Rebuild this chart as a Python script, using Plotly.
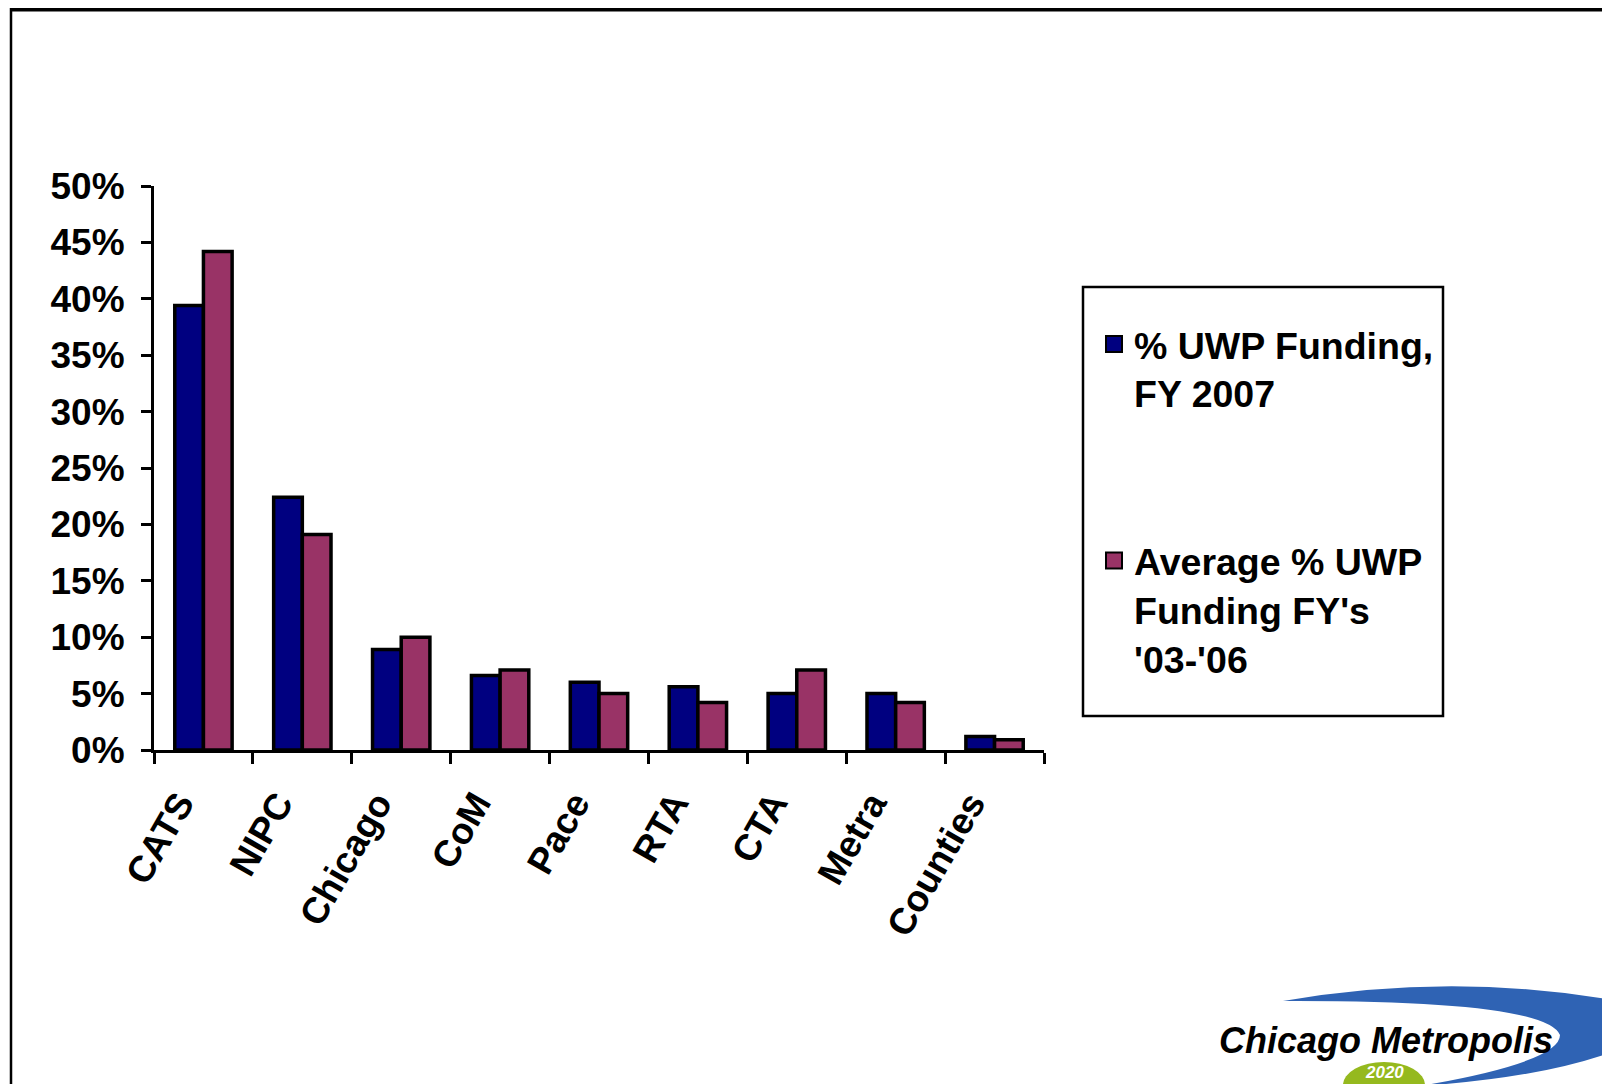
import plotly.graph_objects as go

categories = ["CATS", "NIPC", "Chicago", "CoM", "Pace", "RTA", "CTA", "Metra", "Counties"]
fy2007 = [0.394, 0.224, 0.089, 0.066, 0.060, 0.056, 0.050, 0.050, 0.012]
avg_03_06 = [0.442, 0.191, 0.100, 0.071, 0.050, 0.042, 0.071, 0.042, 0.009]
series_names = ["% UWP Funding,<br>FY 2007", "Average % UWP<br>Funding FY's<br>'03-'06"]
y_ticks = [0, 0.05, 0.10, 0.15, 0.20, 0.25, 0.30, 0.35, 0.40, 0.45, 0.50]
y_tick_text = ["0%", "5%", "10%", "15%", "20%", "25%", "30%", "35%", "40%", "45%", "50%"]

OFF = 8  # page offset of the figure (body margin)
W, H = 1610 - OFF, 1084 - OFF
ML, MT = 154 - OFF, 186 - OFF
MR = W - (1044 - OFF)
MB = H - (750 - OFF)
PW, PH = W - ML - MR, H - MT - MB

def px(x):
    return (x - OFF - ML) / PW

def py(y):
    return (H - MB - (y - OFF)) / PH

NAVY = "#000080"
PLUM = "#993366"
FONT = "Liberation Sans, Arial, sans-serif"

fig = go.Figure()
fig.add_trace(go.Bar(x=categories, y=fy2007, name=series_names[0], marker=dict(color=NAVY, line=dict(color="black", width=3.5)), showlegend=False))
fig.add_trace(go.Bar(x=categories, y=avg_03_06, name=series_names[1], marker=dict(color=PLUM, line=dict(color="black", width=3.5)), showlegend=False))
for nm, col, grp in [(series_names[0], NAVY, "a"), (series_names[1], PLUM, "b")]:
    fig.add_trace(go.Scatter(x=[None], y=[None], mode="markers", name=nm, legendgroup=grp,
                             marker=dict(symbol="square", size=16, color=col, line=dict(color="black", width=2))))

fig.update_layout(
    width=W, height=H,
    margin=dict(l=ML, r=MR, t=MT, b=MB, pad=0),
    paper_bgcolor="white", plot_bgcolor="white",
    barmode="group", bargap=0.42, bargroupgap=0,
    font=dict(family=FONT, size=37, color="black", weight="bold"),
    showlegend=True,
    legend=dict(x=px(1094), y=py(313), xanchor="left", yanchor="top", valign="top",
                traceorder="grouped", tracegroupgap=116, borderwidth=0, bgcolor="rgba(0,0,0,0)",
                font=dict(family=FONT, size=37.5, color="black", weight="bold")),
)
fig.update_xaxes(type="category", range=[-0.5, 8.5], showline=True, linecolor="black", linewidth=3,
                 ticks="outside", tickson="boundaries", ticklen=11, tickwidth=3, tickcolor="black",
                 tickangle=-60, showgrid=False, zeroline=False,
                 ticklabelstandoff=14, ticklabelshift=-24,
                 tickfont=dict(family=FONT, size=37, color="black", weight="bold"))
fig.update_yaxes(range=[0, 0.5], tickvals=y_ticks, ticktext=y_tick_text, showline=True, linecolor="black",
                 linewidth=3, ticks="outside", ticklen=10, tickwidth=3, tickcolor="black",
                 showgrid=False, zeroline=False, ticklabelstandoff=9,
                 tickfont=dict(family=FONT, size=37, color="black", weight="bold"))

shapes = []
# slide frame
shapes.append(dict(type="line", xref="paper", yref="paper", x0=px(10), x1=px(1612), y0=py(9.5), y1=py(9.5), line=dict(color="black", width=4)))
shapes.append(dict(type="line", xref="paper", yref="paper", x0=px(11), x1=px(11), y0=py(8), y1=py(1090), line=dict(color="black", width=2.5)))
# legend box
shapes.append(dict(type="rect", xref="paper", yref="paper", x0=px(1083), x1=px(1443), y0=py(287), y1=py(716), line=dict(color="black", width=2.5), fillcolor="rgba(0,0,0,0)"))
# logo: blue swoosh
pts = [("M", 1283, 1001), ("Q", 1450, 972, 1612, 1000), ("L", 1612, 1052),
       ("Q", 1540, 1078, 1420, 1086), ("Q", 1560, 1062, 1560, 1035), ("Q", 1545, 1000, 1283, 1001)]
path = ""
for p in pts:
    if p[0] in ("M", "L"):
        path += f"{p[0]} {px(p[1])},{py(p[2])} "
    else:
        path += f"Q {px(p[1])},{py(p[2])} {px(p[3])},{py(p[4])} "
path += "Z"
shapes.append(dict(type="path", xref="paper", yref="paper", path=path, fillcolor="#2f63b4", line=dict(width=0)))
# logo: green ellipse
shapes.append(dict(type="circle", xref="paper", yref="paper", x0=px(1343), x1=px(1425), y0=py(1062), y1=py(1108), fillcolor="#95b91e", line=dict(width=0)))
fig.update_layout(shapes=shapes)

fig.add_annotation(xref="paper", yref="paper", x=px(1386), y=py(1040), text="<i>Chicago Metropolis</i>", showarrow=False,
                   font=dict(family=FONT, size=36, color="black", weight="bold"), xanchor="center", yanchor="middle")
fig.add_annotation(xref="paper", yref="paper", x=px(1384), y=py(1084), text="<i>2020</i>", showarrow=False,
                   font=dict(family=FONT, size=17, color="white", weight="bold"), xanchor="center", yanchor="bottom")

fig.write_html("out.html")
